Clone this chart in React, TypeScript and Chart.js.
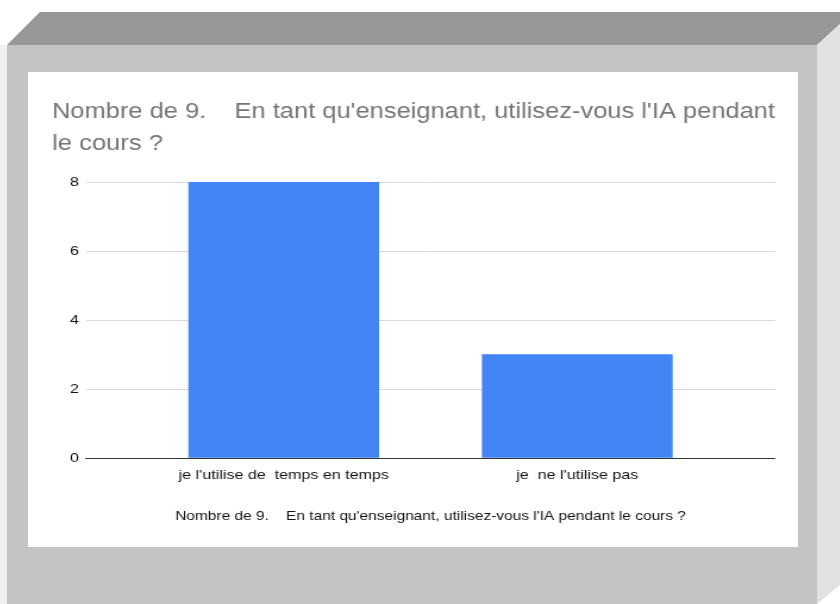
import React, { useEffect, useRef } from "react";
import { Chart, registerables } from "chart.js";

Chart.register(...registerables);

const titleLines = [
  "Nombre de 9.    En tant qu'enseignant, utilisez-vous l'IA pendant",
  "le cours ?",
];
const categories = ["je l'utilise de  temps en temps", "je  ne l'utilise pas"];
const values = [8, 3];
const yMin = 0;
const yMax = 8;
const yStep = 2;
const axisTitle =
  "Nombre de 9.    En tant qu'enseignant, utilisez-vous l'IA pendant le cours ?";

const FONT = 'Arial, "Liberation Sans", sans-serif';
// the reference is horizontally stretched; draw at natural size and stretch via CSS
const S = 1.19;
const CW = 770;
const CH = 475;
const NW = Math.round(CW / S);

function BarChart() {
  const ref = useRef<HTMLCanvasElement | null>(null);
  useEffect(() => {
    if (!ref.current) return;
    const chart = new Chart(ref.current, {
      type: "bar",
      data: {
        datasets: [
          {
            data: values.map((v, i) => ({ x: i, y: v })),
            backgroundColor: "#4285F4",
            borderWidth: 0,
            barThickness: 190 / S,
          },
        ],
      },
      options: {
        animation: false,
        responsive: false,
        devicePixelRatio: 1,
        layout: { padding: { left: 24 / S, right: 23 / S, top: 0, bottom: 0 } },
        plugins: {
          legend: { display: false },
          tooltip: { enabled: false },
          title: {
            display: true,
            text: titleLines,
            align: "start",
            color: "#757575",
            font: { family: FONT, size: 21.5, weight: "normal", lineHeight: 32 / 21.5 },
            padding: { top: 24, bottom: 22 },
          },
        },
        scales: {
          x: {
            type: "linear",
            offset: false,
            bounds: "data",
            min: -0.6735,
            max: 1.6735,
            grid: { display: false, drawTicks: false, offset: false },
            border: { display: true, color: "#333333", width: 1, z: 1 },
            afterBuildTicks: (axis: any) => {
              axis.ticks = categories.map((_, i) => ({ value: i }));
            },
            ticks: {
              autoSkip: false,
              maxRotation: 0,
              padding: 9,
              color: "#111111",
              font: { family: FONT, size: 13.5 },
              callback: (v: any) => categories[v] ?? "",
            },
            title: {
              display: true,
              text: axisTitle,
              color: "#111111",
              font: { family: FONT, size: 13 },
              padding: { top: 0, bottom: 23 },
            },
            afterFit: (s: any) => {
              s.height = 89;
            },
          },
          y: {
            min: yMin,
            max: yMax,
            ticks: {
              stepSize: yStep,
              padding: 7 / S,
              color: "#111111",
              font: { family: FONT, size: 13.5 },
            },
            grid: {
              drawTicks: false,
              color: (ctx: any) => (ctx.tick && ctx.tick.value === 0 ? "rgba(0,0,0,0)" : "#d9d9d9"),
            },
            border: { display: false },
            afterFit: (s: any) => {
              s.width = 34 / S;
            },
          },
        },
      } as any,
    });
    return () => chart.destroy();
  }, []);
  return (
    <canvas
      ref={ref}
      width={NW}
      height={CH}
      style={{ position: "absolute", left: 28, top: 72, width: CW, height: CH }}
    />
  );
}

export default function App() {
  return (
    <div
      style={{
        position: "absolute",
        left: 0,
        top: 0,
        width: 840,
        height: 604,
        background: "#ffffff",
        overflow: "hidden",
      }}
    >
      <div style={{ position: "absolute", left: 0, top: 45, width: 7, height: 559, background: "#f0f0f0" }} />
      <div
        style={{
          position: "absolute",
          left: 0,
          top: 0,
          width: 840,
          height: 604,
          background: "#979797",
          clipPath: "polygon(40px 12px, 840px 12px, 840px 24px, 817px 45px, 7px 45px)",
        }}
      />
      <div
        style={{
          position: "absolute",
          left: 0,
          top: 0,
          width: 840,
          height: 604,
          background: "#e1e1e1",
          clipPath: "polygon(817px 45px, 840px 24px, 840px 585px, 817px 604px)",
        }}
      />
      <div style={{ position: "absolute", left: 7, top: 45, width: 810, height: 559, background: "#c4c4c4" }} />
      <div style={{ position: "absolute", left: 28, top: 72, width: 770, height: 475, background: "#ffffff" }} />
      <BarChart />
    </div>
  );
}
